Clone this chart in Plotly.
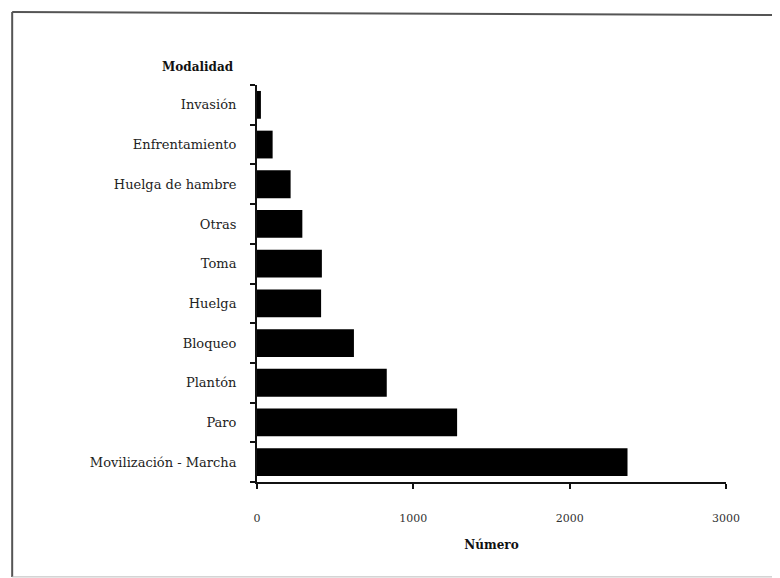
import plotly.graph_objects as go

# data, bottom to top
modalidades = ["Movilización - Marcha", "Paro", "Plantón", "Bloqueo", "Huelga",
               "Toma", "Otras", "Huelga de hambre", "Enfrentamiento", "Invasión"]
numero = [2370, 1280, 830, 620, 410, 415, 290, 215, 100, 25]
x_ticks = [0, 1000, 2000, 3000]

serif = "DejaVu Serif, Liberation Serif, serif"

fig = go.Figure()
fig.add_trace(go.Bar(
    x=numero, y=modalidades, orientation="h",
    marker=dict(color="#000000", line=dict(width=0)),
    width=0.7,
))

# scanned page frame: top, left and a faint bottom edge (no right edge)
frame = [
    dict(x0=-0.522, y0=1.184, x1=1.12, y1=1.176, color="#555", width=2),
    dict(x0=-0.522, y0=1.184, x1=-0.522, y1=-0.239, color="#555", width=2),
    dict(x0=-0.522, y0=-0.239, x1=1.12, y1=-0.239, color="#bbb", width=1),
]
shapes = [dict(type="line", xref="paper", yref="paper",
               x0=f["x0"], y0=f["y0"], x1=f["x1"], y1=f["y1"],
               line=dict(color=f["color"], width=f["width"])) for f in frame]

# page body adds an 8px offset, so margins are shifted by that amount
fig.update_layout(
    width=780, height=578,
    margin=dict(l=249, r=62, t=77, b=104),
    paper_bgcolor="white", plot_bgcolor="white",
    showlegend=False,
    font=dict(family=serif, size=12, color="#222"),
    xaxis=dict(
        range=[0, 3000], tickvals=x_ticks, ticktext=[str(v) for v in x_ticks],
        showgrid=False, zeroline=False,
        showline=True, linecolor="#111", linewidth=2,
        ticks="outside", ticklen=5, tickwidth=2, tickcolor="#111",
        ticklabelstandoff=20,
        tickfont=dict(size=11, color="#333"),
        title=dict(text="<b>Número</b>", font=dict(size=12, color="#111"), standoff=16),
        fixedrange=True,
    ),
    yaxis=dict(
        categoryorder="array", categoryarray=modalidades,
        showgrid=False, zeroline=False,
        showline=True, linecolor="#111", linewidth=2,
        ticks="outside", ticklen=5, tickwidth=2, tickcolor="#111",
        tickson="boundaries", ticklabelstandoff=16,
        tickfont=dict(size=13, color="#222"),
        fixedrange=True,
    ),
    shapes=shapes,
    annotations=[dict(
        text="<b>Modalidad</b>", xref="paper", yref="paper",
        x=-0.045, y=1.045, xanchor="right", yanchor="middle",
        showarrow=False, font=dict(family=serif, size=12, color="#111"),
    )],
)

fig.write_html("out.html")
